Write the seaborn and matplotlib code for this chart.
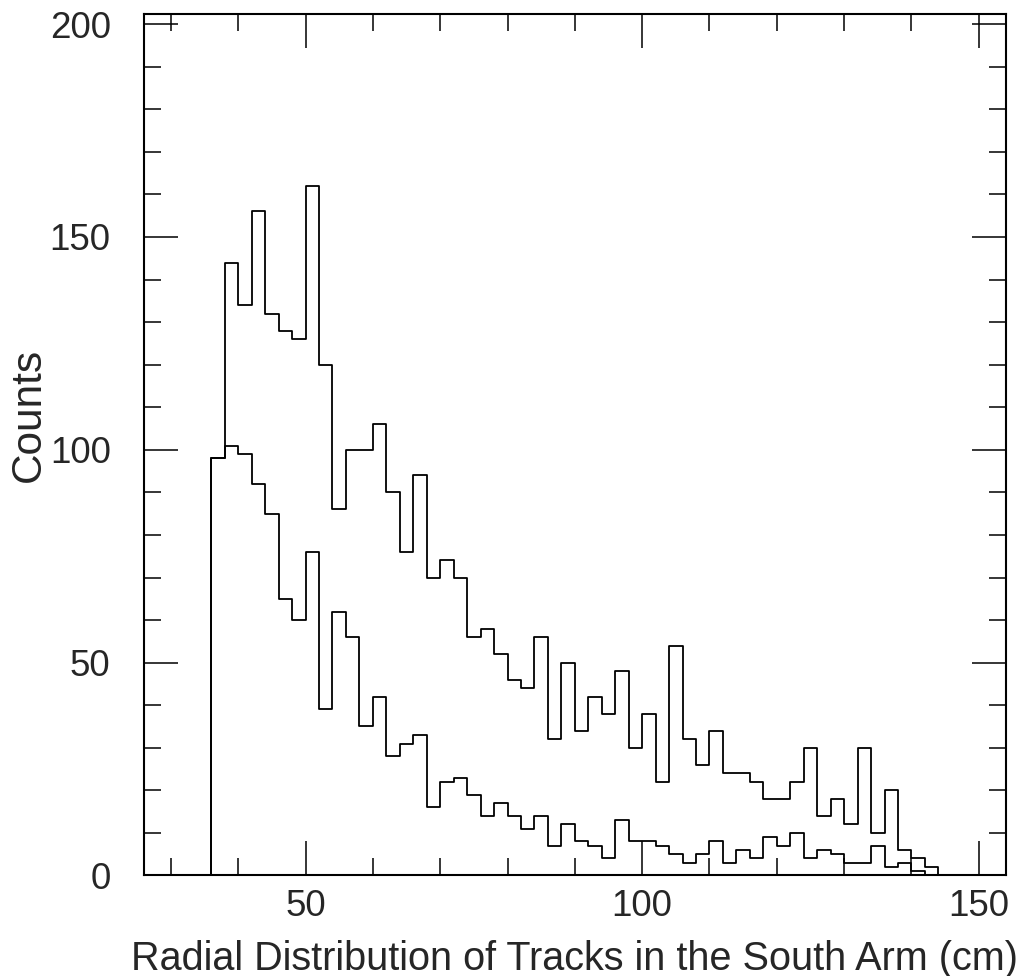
import matplotlib
matplotlib.use("Agg")
import matplotlib.pyplot as plt
from matplotlib.ticker import MultipleLocator
import pandas as pd
import seaborn as sns

# bin centres (cm), 2 cm wide bins from 26 to 154
radius = [27, 29, 31, 33, 35, 37, 39, 41, 43, 45, 47, 49, 51, 53, 55, 57,
          59, 61, 63, 65, 67, 69, 71, 73, 75, 77, 79, 81, 83, 85, 87, 89,
          91, 93, 95, 97, 99, 101, 103, 105, 107, 109, 111, 113, 115, 117, 119, 121,
          123, 125, 127, 129, 131, 133, 135, 137, 139, 141, 143, 145, 147, 149, 151, 153]

counts_all = [0, 0, 0, 0, 0, 98, 144, 134, 156, 132, 128, 126, 162, 120, 86, 100,
              100, 106, 90, 76, 94, 70, 74, 70, 56, 58, 52, 46, 44, 56, 32, 50,
              34, 42, 38, 48, 30, 38, 22, 54, 32, 26, 34, 24, 24, 22, 18, 18,
              22, 30, 14, 18, 12, 30, 10, 20, 6, 4, 2, 0, 0, 0, 0, 0]

counts_sel = [0, 0, 0, 0, 0, 98, 101, 99, 92, 85, 65, 60, 76, 39, 62, 56,
              35, 42, 28, 31, 33, 16, 22, 23, 19, 14, 17, 14, 11, 14, 7, 12,
              8, 7, 4, 13, 8, 8, 7, 5, 3, 5, 8, 3, 6, 4, 9, 7,
              10, 4, 6, 5, 3, 3, 7, 2, 3, 1, 0, 0, 0, 0, 0, 0]

df = pd.DataFrame({"radius": radius, "all": counts_all, "sel": counts_sel})

sns.set_style("ticks")
plt.rcParams["font.family"] = ["Liberation Sans", "DejaVu Sans"]

fig = plt.figure(figsize=(10.21, 9.76), dpi=100)
ax = fig.add_axes([0.141, 0.103, 0.844, 0.8827])

for col in ["all", "sel"]:
    sns.histplot(data=df, x="radius", weights=col, binwidth=2, binrange=(26, 154),
                 element="step", fill=False, color="black", linewidth=1.3, ax=ax)

ax.set_xlim(26, 154)
ax.set_ylim(0, 202.4)

ax.xaxis.set_major_locator(MultipleLocator(50))
ax.xaxis.set_minor_locator(MultipleLocator(10))
ax.yaxis.set_major_locator(MultipleLocator(50))
ax.yaxis.set_minor_locator(MultipleLocator(10))

ax.tick_params(which="both", direction="in", top=True, right=True, color="black", width=1.1)
ax.tick_params(which="major", length=24.5)
ax.tick_params(which="minor", length=12.2)
ax.tick_params(axis="x", which="major", labelsize=26.5, pad=10)
ax.tick_params(axis="y", which="major", labelsize=26.5, pad=24)

for s in ax.spines.values():
    s.set_color("black")
    s.set_linewidth(1.5)

ax.set_xlabel("Radial Distribution of Tracks in the South Arm (cm)", fontsize=28.5)
ax.xaxis.label.set_va("baseline")
ax.set_ylabel("Counts", fontsize=30.5)
ax.xaxis.set_label_coords(0.5, -0.1097)
ax.yaxis.set_label_coords(-0.11, 0.535)

fig.savefig("out.png", dpi=100, facecolor="white")
